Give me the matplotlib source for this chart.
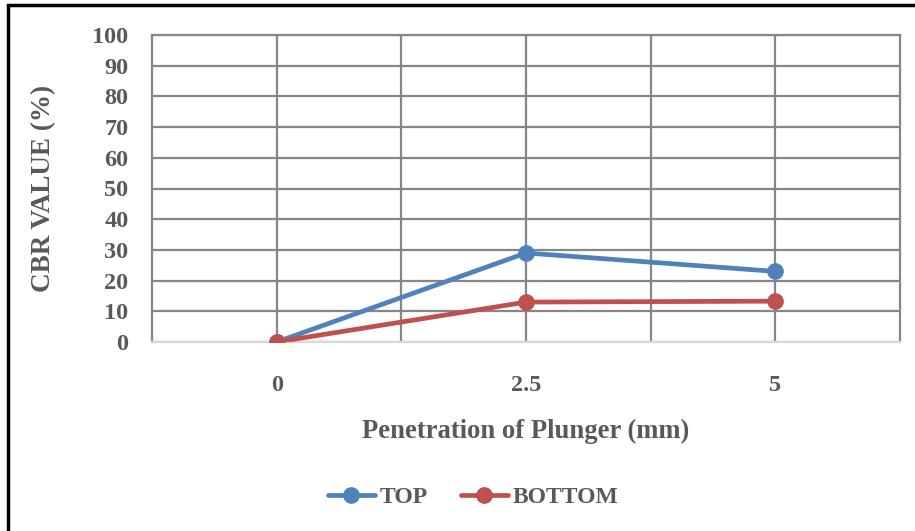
import matplotlib
matplotlib.use("Agg")
import matplotlib.pyplot as plt
from matplotlib.patches import Rectangle

# data
categories = ["0", "2.5", "5"]
top_vals = [0, 29.0, 23.0]
bottom_vals = [0, 13.0, 13.3]
yticks = list(range(0, 101, 10))

BLUE = "#4F81BD"
RED = "#C0504D"
GRID = "#868686"
TXT = "#595959"
FONT = "Liberation Serif"

fig = plt.figure(figsize=(9.15, 5.31), dpi=100)
ax = fig.add_axes([152 / 915, 1 - 342 / 531, 748 / 915, 307 / 531])

x = list(range(len(categories)))
ax.plot(x, top_vals, color=BLUE, lw=3.4, marker="o", ms=11, label="TOP",
        solid_capstyle="round", zorder=3)
ax.plot(x, bottom_vals, color=RED, lw=3.4, marker="o", ms=11, label="BOTTOM",
        solid_capstyle="round", zorder=3)

ax.set_xlim(-0.5, len(categories) - 0.5)
ax.set_ylim(0, 100)
ax.set_yticks(yticks)
ax.set_xticks(x)
ax.set_xticklabels(categories)
# vertical gridlines every half category, as in the Excel original
ax.set_xticks([-0.5 + 0.5 * k for k in range(1, 2 * len(categories))], minor=True)
ax.grid(axis="y", which="major", color=GRID, lw=1.6)
ax.grid(axis="x", which="minor", color=GRID, lw=1.6)
ax.grid(axis="x", which="major", color=GRID, lw=1.6)
ax.set_axisbelow(True)
ax.tick_params(which="both", length=0)
ax.tick_params(axis="y", pad=17)
ax.tick_params(axis="x", pad=24)
for sp in ("left", "right", "top"):
    ax.spines[sp].set_color(GRID)
    ax.spines[sp].set_linewidth(1.6)
ax.spines["bottom"].set_color("#D9D9D9")
ax.spines["bottom"].set_linewidth(1.6)

for lab in ax.get_xticklabels() + ax.get_yticklabels():
    lab.set_fontfamily(FONT)
    lab.set_fontweight("bold")
    lab.set_fontsize(17.5)
    lab.set_color(TXT)

ax.set_xlabel("Penetration of Plunger (mm)", fontfamily=FONT, fontweight="bold",
              fontsize=19.2, color=TXT, labelpad=16)
ax.set_ylabel("CBR VALUE (%)", fontfamily=FONT, fontweight="bold",
              fontsize=19.5, color=TXT, labelpad=26)

leg = fig.legend(loc="center", bbox_to_anchor=(473 / 915, 1 - 497 / 531), ncol=2,
                 frameon=False, handlelength=2.0, columnspacing=1.4, handletextpad=0.2,
                 prop={"family": FONT, "weight": "bold", "size": 17})
for t in leg.get_texts():
    t.set_color(TXT)

# outer black border of the chart frame
fig.patches.append(Rectangle((8 / 915, -0.05), 1.2, 1 - 5 / 531 + 0.05,
                             transform=fig.transFigure, fill=False,
                             edgecolor="black", lw=2.5))

fig.savefig("out.png", dpi=100)
